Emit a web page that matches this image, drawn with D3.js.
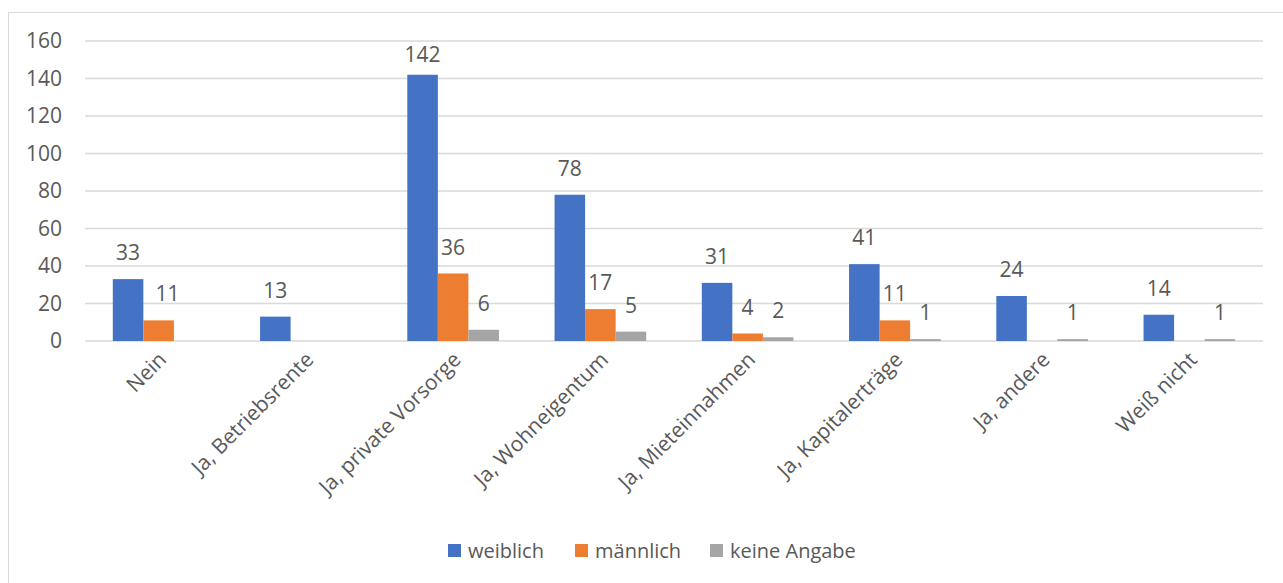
<!DOCTYPE html>
<html>
<head>
<meta charset="utf-8">
<script src="https://cdn.jsdelivr.net/npm/d3@7"></script>
<style>
  body { margin: 0; background: #fff; }
  text { font-family: "Open Sans", "Noto Sans", sans-serif; fill: #595959; }
</style>
</head>
<body>
<div id="chart"></div>
<script>
var categories = ["Nein", "Ja, Betriebsrente", "Ja, private Vorsorge", "Ja, Wohneigentum",
  "Ja, Mieteinnahmen", "Ja, Kapitalerträge", "Ja, andere", "Weiß nicht"];
var seriesNames = ["weiblich", "männlich", "keine Angabe"];
var weiblich = [33, 13, 142, 78, 31, 41, 24, 14];
var maennlich = [11, null, 36, 17, 4, 11, null, null];
var keineAngabe = [null, null, 6, 5, 2, 1, 1, 1];
var yTicks = [0, 20, 40, 60, 80, 100, 120, 140, 160];

function init() {
  var w = 1283;
  var h = 583;
  var left = 85, right = 1263, top = 41, bottom = 341;
  var colors = ["#4472C4", "#ED7D31", "#A5A5A5"];
  var series = [weiblich, maennlich, keineAngabe];

  var svg = d3.select("#chart")
    .append("svg")
    .attr("width", w)
    .attr("height", h);

  // chart frame
  svg.append("rect")
    .attr("x", 8.5).attr("y", 12.5)
    .attr("width", w + 10).attr("height", h + 10)
    .attr("fill", "none")
    .attr("stroke", "#D9D9D9");

  var x0 = d3.scaleBand()
    .domain(categories)
    .range([left, right]);

  var x1 = d3.scaleBand()
    .domain(seriesNames)
    .range([0, x0.bandwidth()])
    .paddingOuter(0.91);

  var y = d3.scaleLinear()
    .domain([0, 160])
    .range([bottom, top]);

  // grid lines
  svg.append("g")
    .selectAll("line")
    .data(yTicks)
    .enter()
    .append("line")
    .attr("x1", left).attr("x2", right)
    .attr("y1", d => y(d)).attr("y2", d => y(d))
    .attr("stroke", "#D9D9D9")
    .attr("stroke-width", 1.5);

  // y axis labels
  var yAxis = d3.axisLeft(y).tickValues(yTicks).tickSize(0).tickPadding(23);
  var gy = svg.append("g")
    .attr("transform", `translate(${left},0)`)
    .call(yAxis);
  gy.select(".domain").remove();
  gy.selectAll("text")
    .attr("font-size", 21)
    .attr("fill", "#595959")
    .style("font-family", "'Open Sans', sans-serif");

  // bars
  var rows = [];
  categories.forEach(function(c, i) {
    seriesNames.forEach(function(s, j) {
      if (series[j][i] != null) rows.push({ cat: c, name: s, idx: j, value: series[j][i] });
    });
  });

  svg.append("g")
    .selectAll("rect")
    .data(rows)
    .enter()
    .append("rect")
    .attr("x", d => x0(d.cat) + x1(d.name))
    .attr("y", d => y(d.value))
    .attr("width", x1.bandwidth())
    .attr("height", d => bottom - y(d.value))
    .attr("fill", d => colors[d.idx]);

  // data labels (kept inside the plot area at the top)
  svg.append("g")
    .selectAll("text")
    .data(rows)
    .enter()
    .append("text")
    .attr("x", d => x0(d.cat) + x1(d.name) + x1.bandwidth() / 2 + (d.cat === "Nein" && d.idx === 1 ? 9 : 0))
    .attr("y", d => Math.max(y(d.value) - 19, top + 21))
    .attr("text-anchor", "middle")
    .attr("font-size", 21)
    .text(d => d.value);

  // category labels
  var xAxis = d3.axisBottom(x0).tickSize(0).tickPadding(0);
  var gx = svg.append("g")
    .attr("transform", `translate(0,${bottom})`)
    .call(xAxis);
  gx.select(".domain").remove();
  gx.selectAll("text")
    .attr("font-size", 21)
    .attr("fill", "#595959")
    .style("font-family", "'Open Sans', sans-serif")
    .attr("text-anchor", "end")
    .attr("dy", 0)
    .attr("transform", "translate(9,20) rotate(-45)");

  // legend
  var legendX = [448, 575, 710];
  var legend = svg.append("g")
    .selectAll("g")
    .data(seriesNames)
    .enter()
    .append("g")
    .attr("transform", (d, i) => `translate(${legendX[i]},544)`);
  legend.append("rect")
    .attr("width", 13).attr("height", 13)
    .attr("fill", (d, i) => colors[i]);
  legend.append("text")
    .attr("x", 20).attr("y", 14)
    .attr("font-size", 20)
    .text(d => d);
}

window.onload = init;
</script>
</body>
</html>
